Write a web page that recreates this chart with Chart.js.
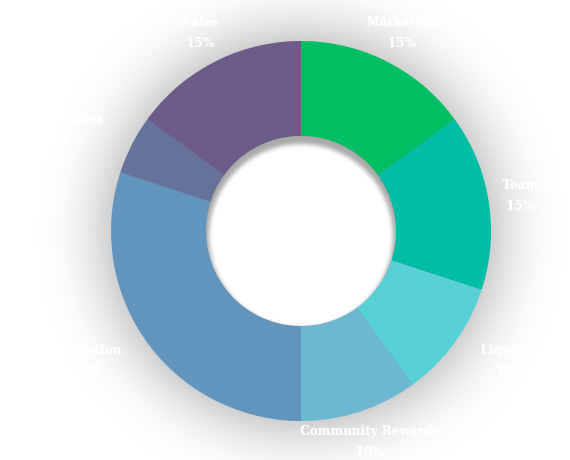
<!DOCTYPE html>
<html>
<head>
<meta charset="utf-8">
<script src="https://cdn.jsdelivr.net/npm/chart.js@4"></script>
<style>
  html, body { margin: 0; padding: 0; background: #ffffff; }
  #wrap { width: 570px; height: 460px; }
</style>
</head>
<body>
<div id="wrap"><canvas id="chart" width="570" height="460"></canvas></div>
<script>
const categories = ['Marketing', 'Team', 'Liquidity', 'Community Rewards', 'Operation', 'Private Sales', 'Sales'];
const shares = [15, 15, 10, 10, 30, 5, 15];
const sliceColors = ['#00bf63', '#00bea6', '#57d1d5', '#6cb8d3', '#6295bd', '#65739a', '#6d5c8a'];

// soft grey glow behind the ring
const ringShadow = {
  id: 'ringShadow',
  beforeDatasetsDraw(chart) {
    const arc = chart.getDatasetMeta(0).data[0];
    if (!arc) return;
    const { x, y, outerRadius } = arc.getProps(['x', 'y', 'outerRadius'], true);
    const ctx = chart.ctx;
    ctx.save();
    ctx.shadowColor = 'rgba(0,0,0,0.42)';
    ctx.shadowBlur = 70;
    ctx.fillStyle = '#888888';
    ctx.beginPath();
    ctx.arc(x, y, outerRadius - 2, 0, Math.PI * 2);
    ctx.fill();
    ctx.restore();
  },
  afterDatasetsDraw(chart) {
    // inset shadow in the hole, heavier at the top
    const arc = chart.getDatasetMeta(0).data[0];
    if (!arc) return;
    const { x, y, innerRadius } = arc.getProps(['x', 'y', 'innerRadius'], true);
    const ctx = chart.ctx;
    ctx.save();
    ctx.beginPath();
    ctx.arc(x, y, innerRadius, 0, Math.PI * 2);
    ctx.clip();
    ctx.fillStyle = '#aaaaaa';
    ctx.fillRect(x - innerRadius, y - innerRadius, innerRadius * 2, innerRadius * 2);
    ctx.filter = 'blur(2px)';
    ctx.fillStyle = '#ffffff';
    ctx.beginPath();
    ctx.arc(x, y + 5, innerRadius - 3, 0, Math.PI * 2);
    ctx.fill();
    ctx.restore();
  }
};

const outLabels = {
  id: 'outLabels',
  afterDraw(chart) {
    const ctx = chart.ctx;
    const meta = chart.getDatasetMeta(0);
    ctx.save();
    ctx.font = 'bold 12px "DejaVu Serif"';
    ctx.fillStyle = '#ffffff';
    ctx.textAlign = 'center';
    ctx.textBaseline = 'middle';
    meta.data.forEach((el, i) => {
      const p = el.getProps(['x', 'y', 'startAngle', 'endAngle', 'outerRadius'], true);
      const mid = (p.startAngle + p.endAngle) / 2;
      const r = p.outerRadius + 32;
      const cos = Math.cos(mid), sin = Math.sin(mid);
      let px = p.x + cos * r;
      const py = p.y + sin * r;
      const lines = [categories[i], shares[i] + '%'];
      const w = Math.max(...lines.map(t => ctx.measureText(t).width));
      // diagonal labels hang off the anchor point instead of centring on it
      if (Math.abs(sin) > 0.3 && Math.abs(sin) < 0.8) px += Math.sign(cos) * w / 2;
      ctx.fillText(lines[0], px, py - 10.5);
      ctx.fillText(lines[1], px, py + 10.5);
    });
    ctx.restore();
  }
};

new Chart(document.getElementById('chart'), {
  type: 'doughnut',
  data: {
    labels: categories,
    datasets: [{
      data: shares,
      backgroundColor: sliceColors,
      borderWidth: 0
    }]
  },
  options: {
    responsive: false,
    animation: false,
    cutout: '50%',
    layout: { padding: { top: 41, bottom: 39, left: 111, right: 79 } },
    plugins: {
      legend: { display: false },
      tooltip: { enabled: false }
    }
  },
  plugins: [ringShadow, outLabels]
});
</script>
</body>
</html>
